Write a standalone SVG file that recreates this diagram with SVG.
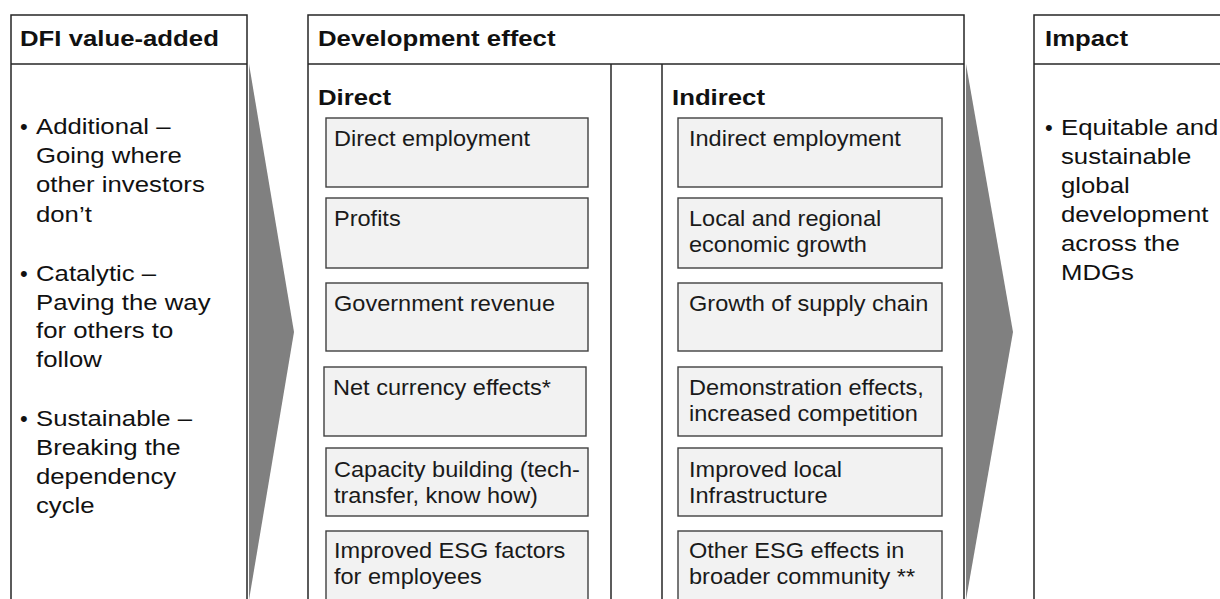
<svg xmlns="http://www.w3.org/2000/svg" width="1220" height="599" viewBox="0 0 1220 599">
<style>
  text { font-family: "Liberation Sans", Arial, sans-serif; fill: #111; }
  .hdr { font-size: 23px; font-weight: bold; }
  .body { font-size: 22px; }
  .bx { font-size: 22px; fill: #1a1a1a; }
  .frame { fill: #fff; stroke: #262626; stroke-width: 1.5; }
  .div { stroke: #262626; stroke-width: 1.5; fill: none; }
  .sub { fill: #f2f2f2; stroke: #404040; stroke-width: 1.4; }
  .arrow { fill: #808080; stroke: none; }
</style>
<rect width="1220" height="599" fill="#fff"/>

<g id="connectors">
  <polygon class="arrow" points="249,64 294,332 249,600"/>
  <polygon class="arrow" points="966,64 1013,332 966,600"/>
</g>

<g id="dfi-value-added">
  <rect class="frame" x="11" y="15" width="236" height="600"/>
  <line class="div" x1="11" y1="64" x2="247" y2="64"/>
  <text class="hdr" transform="translate(20,46) scale(1.12 1)">DFI value-added</text>
  <text class="body" transform="translate(20,134)">•</text>
  <text class="body" transform="translate(36,134) scale(1.17 1)"><tspan x="0" y="0">Additional –</tspan><tspan x="0" y="29">Going where</tspan><tspan x="0" y="58">other investors</tspan><tspan x="0" y="88">don’t</tspan></text>
  <text class="body" transform="translate(20,281)">•</text>
  <text class="body" transform="translate(36,281) scale(1.17 1)"><tspan x="0" y="0">Catalytic –</tspan><tspan x="0" y="29">Paving the way</tspan><tspan x="0" y="57">for others to</tspan><tspan x="0" y="86">follow</tspan></text>
  <text class="body" transform="translate(20,426)">•</text>
  <text class="body" transform="translate(36,426) scale(1.17 1)"><tspan x="0" y="0">Sustainable –</tspan><tspan x="0" y="29">Breaking the</tspan><tspan x="0" y="58">dependency</tspan><tspan x="0" y="87">cycle</tspan></text>
</g>

<g id="development-effect">
  <rect class="frame" x="308" y="15" width="656" height="600"/>
  <line class="div" x1="308" y1="64" x2="964" y2="64"/>
  <line class="div" x1="611" y1="64" x2="611" y2="600"/>
  <line class="div" x1="662" y1="64" x2="662" y2="600"/>
  <text class="hdr" transform="translate(318,46) scale(1.12 1)">Development effect</text>
  <text class="hdr" transform="translate(318,105) scale(1.12 1)">Direct</text>
  <text class="hdr" transform="translate(672,105) scale(1.12 1)">Indirect</text>
</g>

<g id="direct-employment">
  <rect class="sub" x="326" y="118" width="262" height="69"/>
  <text class="bx" transform="translate(334,146) scale(1.07 1)">Direct employment</text>
</g>
<g id="profits">
  <rect class="sub" x="326" y="198" width="262" height="70"/>
  <text class="bx" transform="translate(334,226) scale(1.07 1)">Profits</text>
</g>
<g id="government-revenue">
  <rect class="sub" x="326" y="283" width="262" height="68"/>
  <text class="bx" transform="translate(334,311) scale(1.07 1)">Government revenue</text>
</g>
<g id="net-currency">
  <rect class="sub" x="324" y="367" width="262" height="69"/>
  <text class="bx" transform="translate(333,395) scale(1.07 1)">Net currency effects*</text>
</g>
<g id="capacity-building">
  <rect class="sub" x="326" y="448" width="262" height="68"/>
  <text class="bx" transform="translate(334,477) scale(1.07 1)"><tspan x="0" y="0">Capacity building (tech-</tspan><tspan x="0" y="26.5">transfer, know how)</tspan></text>
</g>
<g id="improved-esg">
  <rect class="sub" x="326" y="531" width="262" height="80"/>
  <text class="bx" transform="translate(334,558) scale(1.07 1)"><tspan x="0" y="0">Improved ESG factors</tspan><tspan x="0" y="26.5">for employees</tspan></text>
</g>

<g id="indirect-employment">
  <rect class="sub" x="678" y="118" width="264" height="69"/>
  <text class="bx" transform="translate(689,146) scale(1.07 1)">Indirect employment</text>
</g>
<g id="local-growth">
  <rect class="sub" x="678" y="198" width="264" height="70"/>
  <text class="bx" transform="translate(689,226) scale(1.07 1)"><tspan x="0" y="0">Local and regional</tspan><tspan x="0" y="26.5">economic growth</tspan></text>
</g>
<g id="supply-chain">
  <rect class="sub" x="678" y="283" width="264" height="68"/>
  <text class="bx" transform="translate(689,311) scale(1.07 1)">Growth of supply chain</text>
</g>
<g id="demonstration">
  <rect class="sub" x="678" y="367" width="264" height="69"/>
  <text class="bx" transform="translate(689,395) scale(1.07 1)"><tspan x="0" y="0">Demonstration effects,</tspan><tspan x="0" y="26.5">increased competition</tspan></text>
</g>
<g id="infrastructure">
  <rect class="sub" x="678" y="448" width="264" height="68"/>
  <text class="bx" transform="translate(689,477) scale(1.07 1)"><tspan x="0" y="0">Improved local</tspan><tspan x="0" y="26.5">Infrastructure</tspan></text>
</g>
<g id="other-esg">
  <rect class="sub" x="678" y="531" width="264" height="80"/>
  <text class="bx" transform="translate(689,558) scale(1.07 1)"><tspan x="0" y="0">Other ESG effects in</tspan><tspan x="0" y="26.5">broader community **</tspan></text>
</g>

<g id="impact">
  <rect class="frame" x="1034" y="15" width="200" height="600"/>
  <line class="div" x1="1034" y1="64" x2="1234" y2="64"/>
  <text class="hdr" transform="translate(1045,46) scale(1.12 1)">Impact</text>
  <text class="body" transform="translate(1045,135)">•</text>
  <text class="body" transform="translate(1061,135) scale(1.17 1)"><tspan x="0" y="0">Equitable and</tspan><tspan x="0" y="29">sustainable</tspan><tspan x="0" y="58">global</tspan><tspan x="0" y="87">development</tspan><tspan x="0" y="116">across the</tspan><tspan x="0" y="145">MDGs</tspan></text>
</g>
</svg>
